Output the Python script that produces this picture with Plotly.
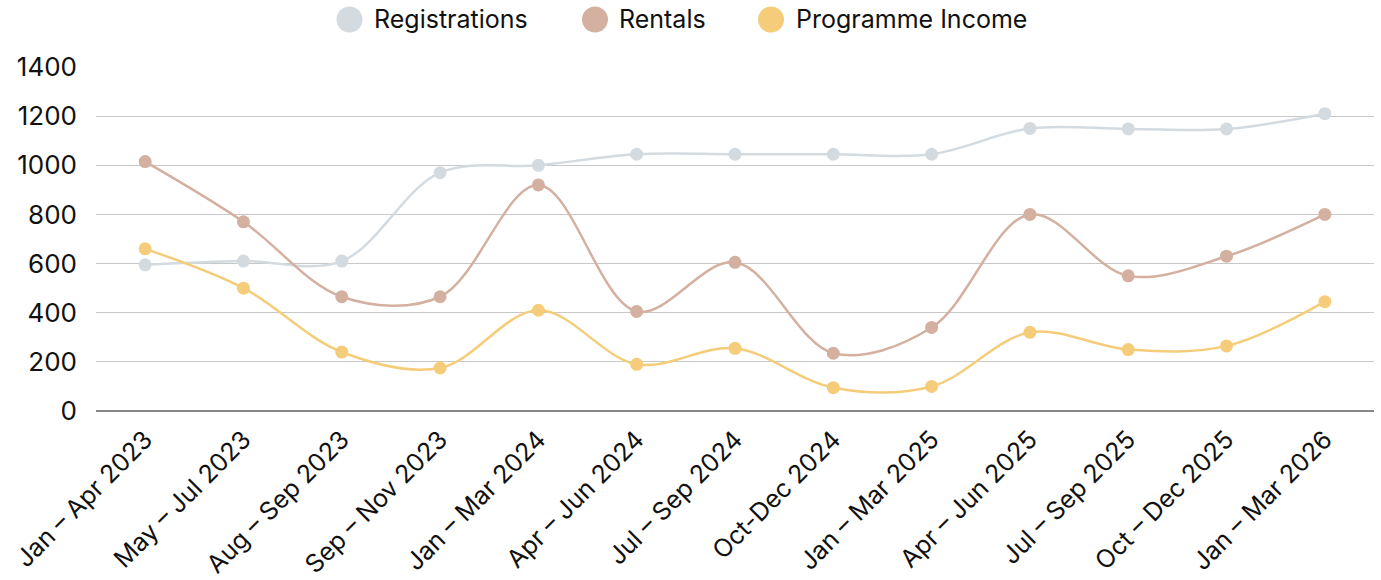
import plotly.graph_objects as go

categories = ["Jan – Apr 2023", "May – Jul 2023", "Aug – Sep 2023", "Sep – Nov 2023",
              "Jan – Mar 2024", "Apr – Jun 2024", "Jul – Sep 2024", "Oct-Dec 2024",
              "Jan – Mar 2025", "Apr – Jun 2025", "Jul – Sep 2025", "Oct – Dec 2025",
              "Jan – Mar 2026"]
registrations = [595, 610, 610, 970, 1000, 1045, 1045, 1045, 1045, 1150, 1148, 1148, 1210]
rentals = [1015, 770, 465, 465, 920, 405, 605, 235, 340, 800, 550, 630, 800]
programme_income = [660, 500, 240, 175, 410, 190, 255, 95, 100, 320, 250, 265, 445]

series_names = ["Registrations", "Rentals", "Programme Income"]
series_values = [registrations, rentals, programme_income]
colors = ["#d3dbe1", "#d4b0a0", "#f5cd7a"]

FONT = "Inter"

fig = go.Figure()
for name, vals, col in zip(series_names, series_values, colors):
    fig.add_trace(go.Scatter(
        x=list(range(len(categories))), y=vals, name=name, mode="lines+markers",
        line=dict(color=col, width=2.5, shape="spline", smoothing=1.0),
        marker=dict(color=col, size=13),
        showlegend=False,
    ))

FW, FH = 1381, 580
L, R, T, B = 96, 7, 67, 169
W, H = FW - L - R, FH - T - B

def px2paper(px, py):
    return (px - L) / W, (FH - B - py) / H

legend_items = [(349.5, 373), (595, 618), (771, 795)]
for (cx, tx), name, col in zip(legend_items, series_names, colors):
    xc, yc = px2paper(cx, 19.5)
    fig.add_shape(type="circle", xref="paper", yref="paper",
                  xsizemode="pixel", ysizemode="pixel", xanchor=xc, yanchor=yc,
                  x0=-13, x1=13, y0=-13, y1=13,
                  fillcolor=col, line=dict(width=0))
    xt, yt = px2paper(tx, 18.5)
    fig.add_annotation(x=xt, y=yt, xref="paper", yref="paper", text=name,
                       showarrow=False, xanchor="left", yanchor="middle",
                       borderpad=0,
                       font=dict(family=FONT, size=25, color="#111111"))

fig.update_layout(
    width=FW, height=FH,
    margin=dict(l=L, r=R, t=T, b=B),
    paper_bgcolor="white", plot_bgcolor="white",
    font=dict(family=FONT, size=25, color="#111111"),
    xaxis=dict(
        tickmode="array", tickvals=list(range(len(categories))), ticktext=categories,
        range=[-0.5, len(categories) - 0.5], tickangle=-45, showgrid=False,
        zeroline=False, showline=False, ticks="", tickfont=dict(size=25),
        automargin=False, ticklabelstandoff=8,
    ),
    yaxis=dict(
        range=[0, 1400], dtick=200, showgrid=True, gridcolor="#c8c8c8", gridwidth=1,
        zeroline=True, zerolinecolor="#888888", zerolinewidth=2,
        ticks="", ticklen=0, tickfont=dict(size=26), automargin=False,
        ticklabelstandoff=18,
    ),
)

# remove the default 8px page margin so the figure fills the window exactly
fig.write_html("out.html",
               config={"displayModeBar": False},
               post_script="document.body.style.margin='0';")
